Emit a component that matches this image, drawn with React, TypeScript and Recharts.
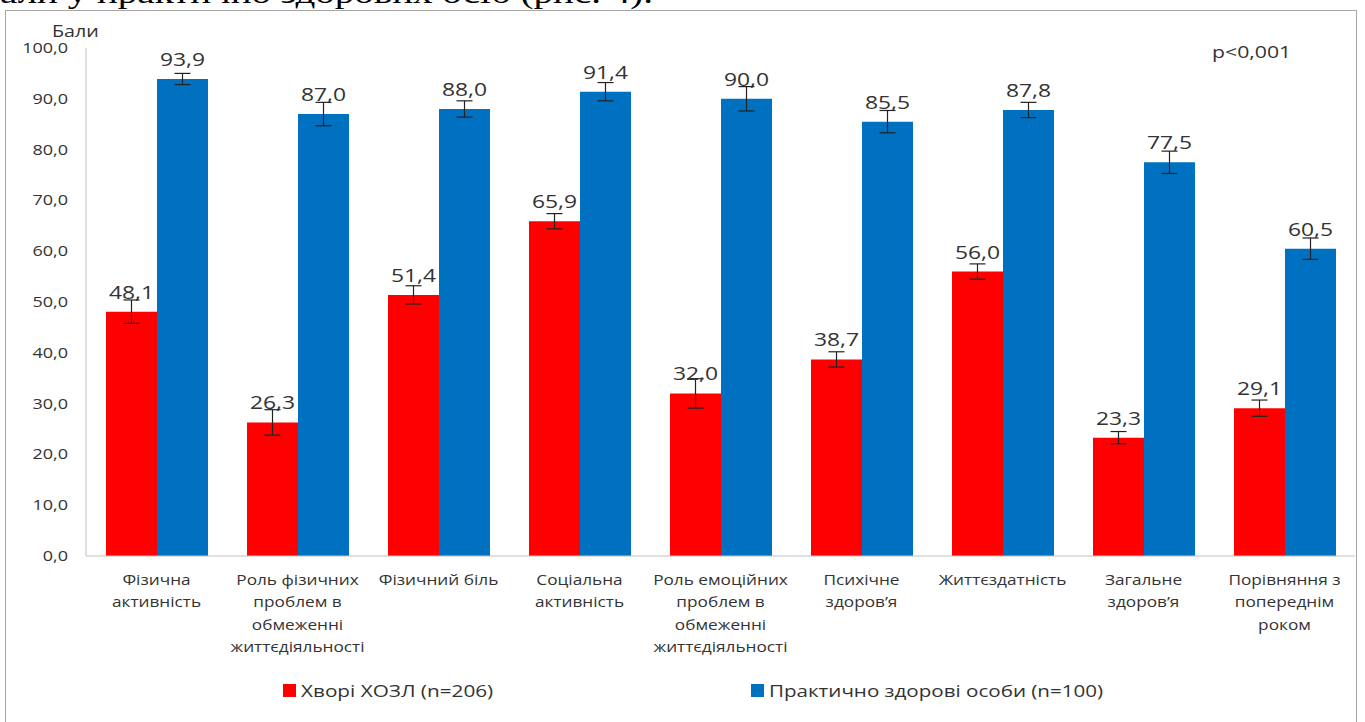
import React from 'react';
import { BarChart, Bar, XAxis, YAxis, ErrorBar, LabelList, Legend } from 'recharts';

const categories = [
    'Фізична\nактивність',
    'Роль фізичних\nпроблем в\nобмеженні\nжиттєдіяльності',
    'Фізичний біль',
    'Соціальна\nактивність',
    'Роль емоційних\nпроблем в\nобмеженні\nжиттєдіяльності',
    'Психічне\nздоров’я',
    'Життєздатність',
    'Загальне\nздоров’я',
    'Порівняння з\nпопереднім\nроком'
];
const copdScores = [48.1, 26.3, 51.4, 65.9, 32.0, 38.7, 56.0, 23.3, 29.1];
const copdErrors = [2.3, 2.5, 1.8, 1.5, 2.9, 1.5, 1.5, 1.2, 1.6];
const healthyScores = [93.9, 87.0, 88.0, 91.4, 90.0, 85.5, 87.8, 77.5, 60.5];
const healthyErrors = [1.1, 2.3, 1.6, 1.8, 2.4, 2.2, 1.5, 2.2, 2.1];
const yTicks = [0, 10, 20, 30, 40, 50, 60, 70, 80, 90, 100];

const copdName = 'Хворі ХОЗЛ (n=206)';
const healthyName = 'Практично здорові особи (n=100)';

const data = categories.map((name, i) => ({
    name,
    copd: copdScores[i],
    copdErr: copdErrors[i],
    healthy: healthyScores[i],
    healthyErr: healthyErrors[i]
}));

const FONT = '"Open Sans", Calibri, sans-serif';
const TEXT = '#333333';
const RED = '#FF0000';
const BLUE = '#0070C0';
// the text in this chart is set wide, so every label is stretched horizontally
const STRETCH = 1.25;

const fmt = (v: any) => Number(v).toFixed(1).replace('.', ',');

const CategoryTick = (props: any) => {
    const { x, y, payload } = props;
    const lines = String(payload.value).split('\n');
    return (
        <g transform={`translate(${x},${y}) scale(1.23,1)`}>
            <text textAnchor="middle" fontSize={14} fill={TEXT} fontFamily={FONT}>
                {lines.map((line, i) => (
                    <tspan key={i} x={0} dy={i === 0 ? 29 : 22.5}>{line}</tspan>
                ))}
            </text>
        </g>
    );
};

const ValueTick = (props: any) => {
    const { x, y, payload } = props;
    return (
        <text transform={`translate(${x},${y}) scale(1.2,1)`} textAnchor="end" dy={5} fontSize={15} fill={TEXT} fontFamily={FONT}>
            {fmt(payload.value)}
        </text>
    );
};

const BarValue = (props: any) => {
    const { x, y, width, value } = props;
    return (
        <text transform={`translate(${x + width / 2},${y - 13}) scale(1.27,1)`} textAnchor="middle" fontSize={18} fill={TEXT} fontFamily={FONT}>
            {fmt(value)}
        </text>
    );
};

const Wide = ({ children, k = STRETCH }: { children: React.ReactNode; k?: number }) => (
    <span style={{ display: 'inline-block', transform: `scaleX(${k})`, transformOrigin: 'left center' }}>{children}</span>
);

const LegendContent = () => (
    <div style={{ display: 'flex', fontFamily: FONT, fontSize: 17, color: TEXT, whiteSpace: 'nowrap' }}>
        <div style={{ display: 'flex', alignItems: 'center', width: 468 }}>
            <span style={{ width: 13, height: 13, background: RED, marginRight: 5 }} />
            <Wide k={1.22}>{copdName}</Wide>
        </div>
        <div style={{ display: 'flex', alignItems: 'center' }}>
            <span style={{ width: 13, height: 13, background: BLUE, marginRight: 5 }} />
            <Wide k={1.21}>{healthyName}</Wide>
        </div>
    </div>
);

export default function App() {
    return (
        <div style={{ position: 'absolute', left: 0, top: 0, width: 1365, height: 722, background: '#fff', overflow: 'hidden' }}>
            <div style={{ position: 'absolute', left: 0, top: -22, fontFamily: '"Liberation Serif", serif', fontSize: 30, lineHeight: 1, color: '#000', whiteSpace: 'nowrap' }}>
                <Wide k={1.3}>али у практично здорових осіб (рис. 4).</Wide>
            </div>
            <div style={{ position: 'absolute', left: 5, top: 10, width: 1350, height: 730, border: '1.5px solid #a6a6a6' }} />
            <div style={{ position: 'absolute', left: 52, top: 20, fontFamily: FONT, fontSize: 16, color: TEXT }}>
                <Wide k={1.23}>Бали</Wide>
            </div>
            <div style={{ position: 'absolute', left: 1212, top: 40, fontFamily: FONT, fontSize: 17, color: TEXT }}>
                <Wide>p&lt;0,001</Wide>
            </div>
            <BarChart
                width={1365}
                height={722}
                data={data}
                margin={{ top: 48, right: 10, left: 0, bottom: 66 }}
                barGap={0}
                style={{ position: 'absolute', left: 0, top: 0 }}
            >
                <XAxis
                    dataKey="name"
                    interval={0}
                    height={100}
                    tickLine={false}
                    tickSize={0}
                    tickMargin={0}
                    axisLine={{ stroke: '#bfbfbf' }}
                    tick={<CategoryTick />}
                />
                <YAxis
                    width={86}
                    domain={[0, 100]}
                    ticks={yTicks}
                    tickLine={false}
                    tickSize={0}
                    tickMargin={18}
                    axisLine={{ stroke: '#bfbfbf' }}
                    tick={<ValueTick />}
                />
                <Legend
                    layout="horizontal"
                    verticalAlign="middle"
                    align="center"
                    content={<LegendContent />}
                    wrapperStyle={{ position: 'absolute', left: 283, top: 679, width: 'auto' }}
                />
                <Bar dataKey="copd" name={copdName} fill={RED} barSize={51} isAnimationActive={false}>
                    <ErrorBar dataKey="copdErr" direction="y" width={8} stroke="#222" strokeWidth={1.2} />
                    <LabelList dataKey="copd" content={<BarValue />} />
                </Bar>
                <Bar dataKey="healthy" name={healthyName} fill={BLUE} barSize={51} isAnimationActive={false}>
                    <ErrorBar dataKey="healthyErr" direction="y" width={8} stroke="#222" strokeWidth={1.2} />
                    <LabelList dataKey="healthy" content={<BarValue />} />
                </Bar>
            </BarChart>
        </div>
    );
}
